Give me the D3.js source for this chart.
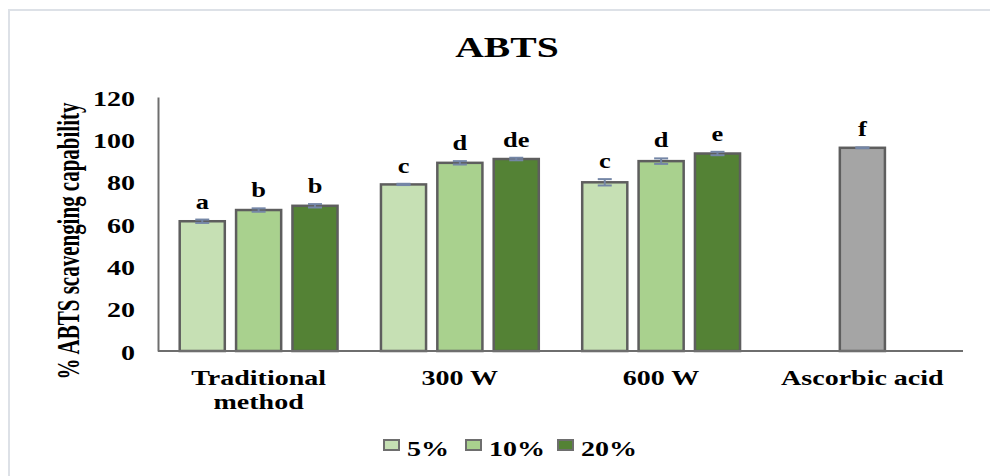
<!DOCTYPE html>
<html>
<head>
<meta charset="utf-8">
<script src="https://cdn.jsdelivr.net/npm/d3@7"></script>
<style>
  html, body { margin: 0; padding: 0; background: #fff; }
  svg { display: block; }
  text { font-family: "Liberation Serif", "Times New Roman", serif; font-weight: bold; fill: #000; }
</style>
</head>
<body>
<svg id="chart" width="990" height="476"></svg>
<script>
// ABTS radical scavenging by extraction method and concentration
const categories = ["Traditional method", "300 W", "600 W", "Ascorbic acid"];
const seriesNames = ["5%", "10%", "20%"];
const values5  = [61.3, 78.7, 79.7, null];
const values10 = [66.6, 88.9, 89.7, 96.0];
const values20 = [68.6, 90.7, 93.3, null];
const errors5  = [0.8, 0.3, 1.5, null];
const errors10 = [0.8, 0.8, 1.3, 0.2];
const errors20 = [0.8, 0.6, 0.8, null];
const letters5  = ["a", "c", "c", null];
const letters10 = ["b", "d", "d", "f"];
const letters20 = ["b", "de", "e", null];
const yTicks = [0, 20, 40, 60, 80, 100, 120];

const seriesColors = ["#c6e0b4", "#a9d18e", "#548235"];
const referenceColor = "#a5a5a5";   // ascorbic acid standard

const svg = d3.select("#chart");
const W = 990, H = 476;
const plot = { left: 158, right: 963, top: 97, bottom: 351 };
const WIDE = 1.4;   // horizontal widening applied to the serif labels

// widen text glyphs horizontally by a factor, keeping their anchor
function widen(sel, k) {
  sel.each(function () {
    const w = this.getComputedTextLength();
    d3.select(this).attr("textLength", w * k).attr("lengthAdjust", "spacingAndGlyphs");
  });
}

// outer frame
svg.append("rect")
  .attr("x", 9).attr("y", 10).attr("width", W + 10).attr("height", H + 10)
  .attr("fill", "none").attr("stroke", "#dde1e7").attr("stroke-width", 2);

const x = d3.scaleBand().domain(categories).range([plot.left, plot.right]).padding(0);
const xi = d3.scaleBand().domain(seriesNames).range([0, x.bandwidth()])
  .paddingInner(0.2).paddingOuter(0.385);
const y = d3.scaleLinear().domain([0, 120]).range([plot.bottom, plot.top]);

// title
const title = svg.append("text").attr("x", 507).attr("y", 57).attr("text-anchor", "middle")
  .style("font-size", "30px").text("ABTS");
widen(title, 1.32);

// y axis
const yAxis = d3.axisLeft(y).tickValues(yTicks).tickSize(0).tickPadding(23);
const gy = svg.append("g").attr("transform", `translate(${plot.left},0)`).call(yAxis);
gy.select(".domain").attr("stroke", "#6e6e6e").attr("stroke-width", 2);
gy.selectAll("text").style("font-size", "20px").attr("dy", "0.4em")
  .style("font-family", '"Liberation Serif", serif').style("font-weight", "bold");
widen(gy.selectAll("text"), WIDE);

svg.append("text")
  .attr("transform", `translate(79,241) scale(${WIDE},1) rotate(-90)`)
  .attr("text-anchor", "middle").style("font-size", "22px")
  .attr("textLength", 277).attr("lengthAdjust", "spacingAndGlyphs")
  .text("% ABTS scavenging capability");

// flatten the series into marks
const rows = [];
categories.forEach((c, i) => {
  [values5, values10, values20].forEach((arr, s) => {
    const v = arr[i];
    if (v == null) return;
    rows.push({
      cat: c, series: seriesNames[s], value: v,
      err: [errors5, errors10, errors20][s][i],
      letter: [letters5, letters10, letters20][s][i],
      color: c === "Ascorbic acid" ? referenceColor : seriesColors[s]
    });
  });
});

const bx = d => x(d.cat) + xi(d.series);

// bars
svg.append("g").selectAll("rect").data(rows).join("rect")
  .attr("x", bx).attr("width", xi.bandwidth())
  .attr("y", d => y(d.value)).attr("height", d => y(0) - y(d.value))
  .attr("fill", d => d.color).attr("stroke", "#5e5e5e").attr("stroke-width", 2.5);

// error bars
const eg = svg.append("g").attr("stroke", "#7486a6").attr("stroke-width", 2);
rows.forEach(d => {
  const cx = bx(d) + xi.bandwidth() / 2;
  const y1 = y(d.value + d.err), y2 = y(d.value - d.err);
  eg.append("line").attr("x1", cx).attr("x2", cx).attr("y1", y1).attr("y2", y2);
  eg.append("line").attr("x1", cx - 7).attr("x2", cx + 7).attr("y1", y1).attr("y2", y1);
  eg.append("line").attr("x1", cx - 7).attr("x2", cx + 7).attr("y1", y2).attr("y2", y2);
});

// significance letters
const letterText = svg.append("g").selectAll("text").data(rows).join("text")
  .attr("x", d => bx(d) + xi.bandwidth() / 2)
  .attr("y", d => y(d.value + d.err) - 11)
  .attr("text-anchor", "middle").style("font-size", "22px")
  .text(d => d.letter);
widen(letterText, 1.2);

// x axis baseline
svg.append("line").attr("x1", plot.left).attr("x2", plot.right)
  .attr("y1", y(0)).attr("y2", y(0)).attr("stroke", "#6e6e6e").attr("stroke-width", 2);

// category labels
categories.forEach(c => {
  const words = c === "Traditional method" ? ["Traditional", "method"] : [c];
  const cx = x(c) + x.bandwidth() / 2;
  const t = svg.append("text").attr("text-anchor", "middle")
    .attr("x", cx).attr("y", 385).style("font-size", "20px");
  words.forEach((w, k) => t.append("tspan").attr("x", cx).attr("dy", k ? 24 : 0).text(w));
  widen(t.selectAll("tspan"), WIDE);
});

// legend
const legendX = [384, 466, 558];
const lg = svg.append("g");
seriesNames.forEach((s, i) => {
  lg.append("rect").attr("x", legendX[i]).attr("y", 440).attr("width", 15).attr("height", 10)
    .attr("fill", seriesColors[i]).attr("stroke", "#6e6e6e").attr("stroke-width", 2);
  const t = lg.append("text").attr("x", legendX[i] + 23).attr("y", 456)
    .style("font-size", "20px").text(s);
  widen(t, WIDE);
});
</script>
</body>
</html>
